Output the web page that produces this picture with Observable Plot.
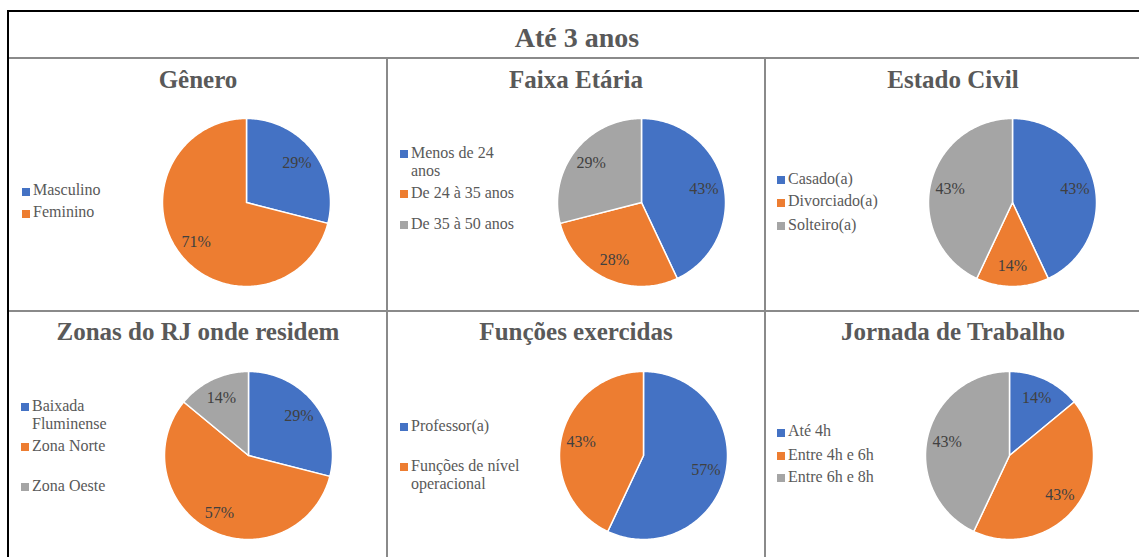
<!DOCTYPE html>
<html>
<head>
<meta charset="utf-8">
<script src="https://cdn.jsdelivr.net/npm/d3@7"></script>
<script src="https://cdn.jsdelivr.net/npm/@observablehq/plot@0.6"></script>
<style>
  body { margin: 0; background: #fff; }
  #page { position: relative; width: 1139px; height: 557px; overflow: hidden;
          font-family: "Liberation Serif", "Times New Roman", serif; background: #fff; }
  .rule { position: absolute; }
  .title { position: absolute; font-weight: bold; color: #595959; white-space: nowrap;
           transform: translateX(-50%); line-height: 1; }
  .item { position: absolute; color: #595959; font-size: 16px; line-height: 18px; }
  .item .sw { position: absolute; left: 0; top: 6.5px; width: 8px; height: 8px; }
  .item .txt { position: absolute; left: 11px; top: 0; width: 112px; }
  .pie { position: absolute; display: block; }
</style>
</head>
<body>
<div id="page"></div>
<script>
// Survey breakdown for staff with up to 3 years, values in percent
const heading = "Até 3 anos";
const titles = ["Gênero", "Faixa Etária", "Estado Civil",
                "Zonas do RJ onde residem", "Funções exercidas", "Jornada de Trabalho"];

const generoCats = ["Masculino", "Feminino"];
const generoVals = [29, 71];

const faixaCats = ["Menos de 24 anos", "De 24 à 35 anos", "De 35 à 50 anos"];
const faixaVals = [43, 28, 29];

const civilCats = ["Casado(a)", "Divorciado(a)", "Solteiro(a)"];
const civilVals = [43, 14, 43];

const zonaCats = ["Baixada Fluminense", "Zona Norte", "Zona Oeste"];
const zonaVals = [29, 57, 14];

const funcaoCats = ["Professor(a)", "Funções de nível operacional"];
const funcaoVals = [57, 43];

const jornadaCats = ["Até 4h", "Entre 4h e 6h", "Entre 6h e 8h"];
const jornadaVals = [14, 43, 43];

const palette = ["#4472C4", "#ED7D31", "#A5A5A5"];

// Panel placement on the page
const panels = [
  {cats: generoCats,  vals: generoVals,  title: titles[0], cx: 246,    cy: 202, tx: 198, ty: 88,  lx: 22,  ly: [191.5, 213.5]},
  {cats: faixaCats,   vals: faixaVals,   title: titles[1], cx: 641,    cy: 202, tx: 576, ty: 88,  lx: 400, ly: [154, 194, 225]},
  {cats: civilCats,   vals: civilVals,   title: titles[2], cx: 1011.5, cy: 202, tx: 953, ty: 88,  lx: 777, ly: [180, 202.5, 226]},
  {cats: zonaCats,    vals: zonaVals,    title: titles[3], cx: 248,    cy: 455, tx: 198, ty: 340, lx: 21,  ly: [407, 447, 487]},
  {cats: funcaoCats,  vals: funcaoVals,  title: titles[4], cx: 643,    cy: 455, tx: 576, ty: 340, lx: 400, ly: [427, 467]},
  {cats: jornadaCats, vals: jornadaVals, title: titles[5], cx: 1009,   cy: 455, tx: 953, ty: 340, lx: 777, ly: [432.5, 456, 478]}
];

const page = document.getElementById("page");

function rule(left, top, width, height, color) {
  const d = document.createElement("div");
  d.className = "rule";
  Object.assign(d.style, {left: left + "px", top: top + "px", width: width + "px",
                          height: height + "px", background: color});
  page.appendChild(d);
}

// Table frame and cell dividers
rule(7, 10, 1140, 2, "#000");
rule(7, 10, 2, 560, "#000");
rule(9, 57, 1140, 2, "#8a8a8a");
rule(9, 310, 1140, 2, "#8a8a8a");
rule(386, 58, 2, 510, "#8a8a8a");
rule(764, 58, 2, 510, "#8a8a8a");

function title(text, x, baseline, size) {
  const d = document.createElement("div");
  d.className = "title";
  d.textContent = text;
  d.style.fontSize = size + "px";
  d.style.left = x + "px";
  d.style.top = (baseline - size * 0.837) + "px";
  page.appendChild(d);
}

title(heading, 577, 47, 28);

// Polygon outline of each slice plus a label point on its mid-angle
function pieData(cats, vals) {
  const arcs = d3.pie().sort(null).value(d => d)(vals);
  const pts = [], labels = [];
  arcs.forEach((a, i) => {
    const cat = cats[i];
    pts.push({cat, x: 0, y: 0});
    const n = Math.max(2, Math.ceil((a.endAngle - a.startAngle) / (Math.PI / 180)));
    for (let k = 0; k <= n; k++) {
      const t = a.startAngle + (a.endAngle - a.startAngle) * k / n;
      pts.push({cat, x: Math.sin(t), y: Math.cos(t)});
    }
    pts.push({cat, x: 0, y: 0});
    const mid = (a.startAngle + a.endAngle) / 2;
    labels.push({cat, x: 0.76 * Math.sin(mid), y: 0.76 * Math.cos(mid), label: vals[i] + "%"});
  });
  return {pts, labels};
}

panels.forEach(p => {
  title(p.title, p.tx, p.ty, 25);

  const {pts, labels} = pieData(p.cats, p.vals);
  const svg = Plot.plot({
    width: 180, height: 180, margin: 6,
    x: {domain: [-1, 1], axis: null},
    y: {domain: [-1, 1], axis: null},
    color: {domain: p.cats, range: palette.slice(0, p.cats.length)},
    style: {background: "transparent", fontFamily: "'Liberation Serif', 'Times New Roman', serif"},
    marks: [
      Plot.line(pts, {x: "x", y: "y", z: "cat", fill: "cat", stroke: "white",
                      strokeWidth: 1.5, strokeLinejoin: "round"}),
      Plot.text(labels, {x: "x", y: "y", text: "label", fontSize: 16, fill: "#404040"})
    ]
  });
  svg.classList.add("pie");
  svg.style.left = (p.cx - 90) + "px";
  svg.style.top = (p.cy - 90) + "px";
  page.appendChild(svg);

  // Legend
  p.cats.forEach((c, i) => {
    const item = document.createElement("div");
    item.className = "item";
    item.style.left = p.lx + "px";
    item.style.top = (p.ly[i] - 10.5) + "px";
    const sw = document.createElement("div");
    sw.className = "sw";
    sw.style.background = palette[i];
    const tx = document.createElement("div");
    tx.className = "txt";
    tx.textContent = c;
    item.appendChild(sw);
    item.appendChild(tx);
    page.appendChild(item);
  });
});
</script>
</body>
</html>
